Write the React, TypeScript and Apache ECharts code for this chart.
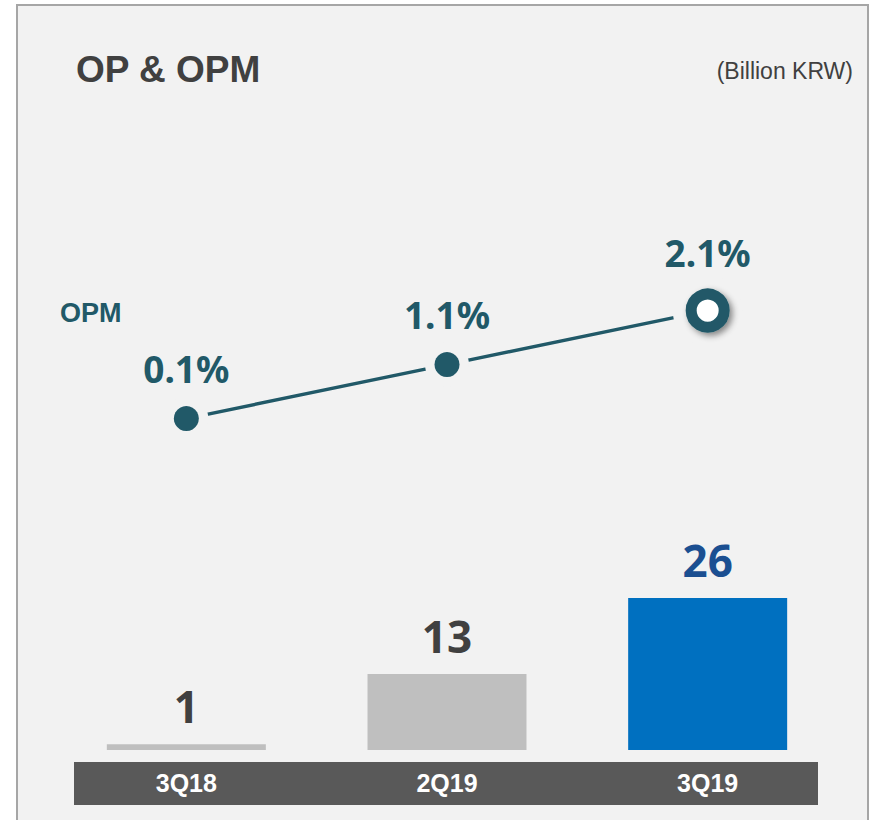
import React, { useEffect, useRef } from 'react';
import * as echarts from 'echarts';

const categories = ['3Q18', '2Q19', '3Q19'];
const opValues = [1, 13, 26];
const opmValues = [0.1, 1.1, 2.1];

const barColors = ['#bfbfbf', '#bfbfbf', '#0070c0'];
const barLabelColors = ['#404040', '#404040', '#1b4f91'];

export default function App() {
  const ref = useRef<HTMLDivElement>(null);
  useEffect(() => {
    const chart = echarts.init(ref.current!, null, { renderer: 'svg' });
    const teal = '#215968';
    const bg = '#f2f2f2';
    const last = opmValues.length - 1;
    const sans = '"Liberation Sans", Arial, sans-serif';
    const noto = '"Noto Sans", "Open Sans", sans-serif';
    chart.setOption({
      animation: false,
      backgroundColor: 'transparent',
      grid: [
        { left: 56, right: 34, top: 516, height: 234 },
        { left: 56, right: 34, top: 208, height: 216 },
      ],
      xAxis: [
        {
          type: 'category', gridIndex: 0, data: categories,
          axisLine: { show: false }, axisTick: { show: false }, splitLine: { show: false },
          axisLabel: { color: '#ffffff', fontFamily: sans, fontWeight: 'bold', fontSize: 25, margin: 33, verticalAlign: 'middle' },
        },
        { type: 'category', gridIndex: 1, data: categories, show: false },
      ],
      yAxis: [
        { type: 'value', gridIndex: 0, min: 0, max: 40, show: false },
        { type: 'value', gridIndex: 1, min: 0, max: 4, show: false },
      ],
      series: [
        {
          type: 'bar', xAxisIndex: 0, yAxisIndex: 0, barWidth: 159,
          data: opValues.map((v, i) => ({ value: v, itemStyle: { color: barColors[i] }, label: { color: barLabelColors[i] } })),
          label: { show: true, position: 'top', distance: 16, fontSize: 44, fontWeight: 'bold', fontFamily: noto },
          z: 2,
        },
        {
          type: 'line', xAxisIndex: 1, yAxisIndex: 1, data: opmValues, showSymbol: false,
          lineStyle: { color: teal, width: 3.5 }, z: 2, silent: true,
        },
        {
          type: 'scatter', xAxisIndex: 1, yAxisIndex: 1, data: opmValues,
          symbolSize: (_v: any, p: any) => (p.dataIndex === last ? 70 : 44),
          itemStyle: { color: bg, opacity: 1 }, z: 3, silent: true,
        },
        {
          type: 'scatter', xAxisIndex: 1, yAxisIndex: 1,
          data: opmValues.map((v, i) =>
            i === last
              ? {
                  value: v, symbolSize: 33,
                  itemStyle: { color: '#ffffff', borderColor: teal, borderWidth: 11, opacity: 1, shadowBlur: 6, shadowOffsetX: 3, shadowOffsetY: 3, shadowColor: 'rgba(0,0,0,0.45)' },
                  label: { offset: [0, -58] },
                }
              : v
          ),
          symbolSize: 25,
          itemStyle: { color: teal, opacity: 1 },
          label: {
            show: true, position: 'inside', offset: [0, -50],
            formatter: (p: any) => `${Number(p.value).toFixed(1)}%`,
            fontSize: 37, fontWeight: 'bold', fontFamily: noto, color: teal,
          },
          z: 4,
        },
      ],
      graphic: [
        { type: 'rect', z: -10, shape: { x: 17, y: 5, width: 851, height: 830 }, style: { fill: bg, stroke: '#a6a6a6', lineWidth: 2 } },
        { type: 'rect', z: -5, shape: { x: 74, y: 762, width: 744, height: 43 }, style: { fill: '#595959' } },
        { type: 'text', z: 5, x: 76, y: 69, style: { text: 'OP & OPM', fill: '#404040', font: `bold 37px ${sans}`, align: 'left', textAlign: 'left', verticalAlign: 'middle', textVerticalAlign: 'middle' } },
        { type: 'text', z: 5, x: 853, y: 71, style: { text: '(Billion KRW)', fill: '#404040', font: `23px ${sans}`, align: 'right', textAlign: 'right', verticalAlign: 'middle', textVerticalAlign: 'middle' } },
        { type: 'text', z: 5, x: 60, y: 313, style: { text: 'OPM', fill: teal, font: `bold 27px ${sans}`, align: 'left', textAlign: 'left', verticalAlign: 'middle', textVerticalAlign: 'middle' } },
      ],
    });
    return () => chart.dispose();
  }, []);
  return <div ref={ref} style={{ position: 'absolute', left: 0, top: 0, width: 872, height: 820 }} />;
}
